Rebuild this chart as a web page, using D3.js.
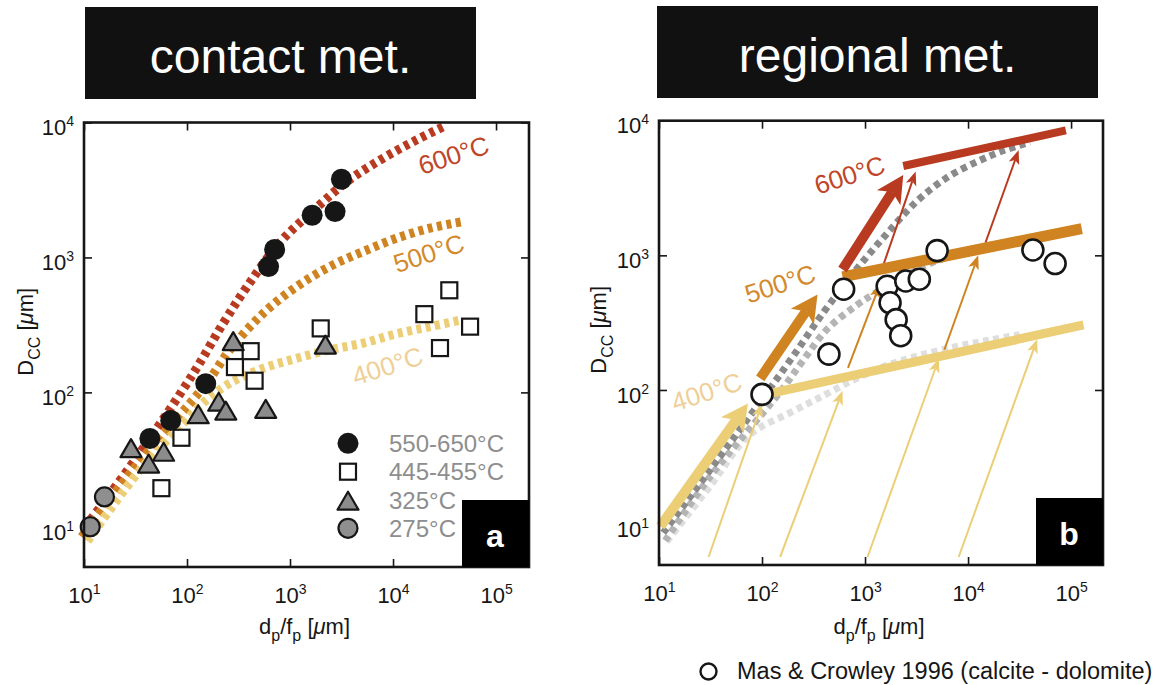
<!DOCTYPE html>
<html>
<head>
<meta charset="utf-8">
<script src="https://cdn.jsdelivr.net/npm/d3@7"></script>
<style>
  body { margin: 0; background: #fff; }
  svg { font-family: "Liberation Sans", Arial, Helvetica, sans-serif; }
</style>
</head>
<body>
<svg id="chart" width="1174" height="685"></svg>
<script>
// ---------- values ----------
const xTicks = [10, 100, 1e3, 1e4, 1e5];
const yTicks = [10, 100, 1e3, 1e4];

// panel a : contact metamorphism, [dp/fp, Dcc]
const hot = [[43.6, 45.5], [69.5, 62], [152, 116], [619, 855], [709, 1146], [1641, 2055], [2737, 2188], [3155, 3800]];
const warm = [[56.4, 19.5], [88.3, 46.1], [292, 154], [415, 202], [453, 122], [1986, 298], [20140, 380], [35180, 571], [28570, 213], [55980, 307]];
const t325 = [[28.6, 38.6], [42.4, 29.7], [59.3, 36.3], [128.5, 68.9], [203, 85.3], [238, 73.3], [281, 240], [581, 75.5], [2204, 226]];
const t275 = [[11.5, 10.1], [15.8, 16.8]];

const curve600 = [[10.2, 10], [31.6, 32], [115, 138], [224, 324], [380, 603], [794, 1288], [1698, 2239], [3548, 3631], [7413, 5248], [15850, 7244], [33110, 9550]];
const curve500 = [[9.5, 8.5], [31.6, 28.2], [155, 117], [261, 207], [551, 386], [1160, 608], [2440, 857], [5150, 1107], [10860, 1390], [22900, 1650], [48200, 1845]];
const curve400 = [[10.8, 7.9], [35, 26.6], [92, 59.2], [155, 88], [261, 117], [551, 151], [1160, 179], [2440, 207], [5150, 232], [10860, 272], [22900, 307], [46400, 345]];

// panel b : regional metamorphism
const masCrowley = [[100, 92.7], [446, 184.5], [620, 560], [1640, 589], [1750, 444], [2005, 333], [2220, 253], [2485, 645], [3365, 665], [5010, 1084], [42600, 1096], [70000, 869]];

const gray600 = [[11, 8.7], [31.6, 25.7], [100, 85.1], [200, 178], [398, 380], [794, 759], [1585, 1413], [3162, 2512], [6310, 3802], [12590, 5012], [22390, 6026], [39810, 6918]];
const gray500 = [[11.5, 7.6], [31.6, 22.9], [148, 95.5], [251, 166], [427, 282], [832, 427], [1202, 513], [2512, 708], [4266, 871], [10000, 1072], [19950, 1230]];
const gray400 = [[11.9, 7.48], [31.6, 19.5], [75.9, 46.5], [186, 67.6], [398, 91.2], [794, 120], [1585, 151], [3162, 178], [7413, 209], [15850, 234], [31620, 257]];

const line400 = [[109, 92.7], [132000, 304]];
const line500 = [[605, 693], [127000, 1580]];
const line600 = [[2350, 4610], [89000, 8470]];

const bigArrows = [
  { t: 400, from: [10.3, 9.7], to: [73, 79.4] },
  { t: 500, from: [96, 122], to: [346, 512] },
  { t: 600, from: [605, 785], to: [2350, 3950] }
];
const thinArrows = [
  { t: 400, from: [30.3, 5.75], to: [100, 79.5] },
  { t: 400, from: [150, 5.75], to: [605, 98.5] },
  { t: 400, from: [1057, 5.75], to: [5210, 171] },
  { t: 400, from: [8110, 5.75], to: [46900, 238] },
  { t: 500, from: [683, 146], to: [1400, 614] },
  { t: 500, from: [5890, 199], to: [12560, 1000] },
  { t: 600, from: [1515, 859], to: [3100, 4200] },
  { t: 600, from: [14750, 1240], to: [31000, 6050] }
];

// temperature annotations (anchor in data units)
const labelsA = [{ t: 600, at: [38700, 5730] }, { t: 500, at: [22200, 1072] }, { t: 400, at: [8850, 157] }];
const labelsB = [{ t: 600, at: [708, 3955] }, { t: 500, at: [150, 614] }, { t: 400, at: [29, 97] }];

const legendA = [
  { name: "550-650°C", kind: "hot" },
  { name: "445-455°C", kind: "warm" },
  { name: "325°C", kind: "tri" },
  { name: "275°C", kind: "gray" }
];

// ---------- styling ----------
const lineColor = { 600: "#b83a20", 500: "#cf8421", 400: "#ecce76" };
const textColor = { 600: "#c0462a", 500: "#d28a2c", 400: "#efcf98" };
const grayColor = { 600: "#8a8a8a", 500: "#b4b4b4", 400: "#dedede" };
const ink = "#161616";

const svg = d3.select("#chart");

const panels = [
  { id: "a", title: "contact met.", box: [85, 7, 391, 92], left: 84, right: 529, top: 122.5, bottom: 567, xMax: Math.pow(10, 5.32), yMin: Math.pow(10, 0.706), yTitleX: 33 },
  { id: "b", title: "regional met.", box: [657, 6, 441, 92], left: 659, right: 1103, top: 120.7, bottom: 565, xMax: Math.pow(10, 5.31), yMin: Math.pow(10, 0.7), yTitleX: 606 }
];

panels.forEach(p => {
  p.x = d3.scaleLog().domain([10, p.xMax]).range([p.left, p.right]);
  p.y = d3.scaleLog().domain([p.yMin, 1e4]).range([p.bottom, p.top]);
});

function supLabel(sel) {
  sel.each(function (d) {
    const t = d3.select(this).text(null);
    t.append("tspan").text("10");
    t.append("tspan").attr("dy", -9).attr("font-size", 14).text(Math.round(Math.log10(d)));
  });
}

function drawAxes(p) {
  const g = svg.append("g");
  const tidy = a => a.call(s => s.select(".domain").remove())
    .call(s => s.selectAll(".tick line").attr("stroke", ink).attr("stroke-width", 1.6))
    .attr("font-family", null).attr("font-size", 22);

  g.append("g").attr("transform", `translate(0,${p.bottom})`)
    .call(d3.axisBottom(p.x).tickValues(xTicks).tickSizeInner(-8).tickSizeOuter(0))
    .call(tidy)
    .selectAll(".tick text").attr("y", 36).attr("dy", null).attr("fill", ink).call(supLabel);

  g.append("g").attr("transform", `translate(${p.left},0)`)
    .call(d3.axisLeft(p.y).tickValues(yTicks).tickSizeInner(-8).tickSizeOuter(0).tickPadding(10))
    .call(tidy)
    .selectAll(".tick text").attr("dy", "0.55em").attr("fill", ink).call(supLabel);

  g.append("g").attr("transform", `translate(0,${p.top})`)
    .call(d3.axisTop(p.x).tickValues(xTicks).tickSizeInner(-8).tickSizeOuter(0).tickFormat(""))
    .call(tidy);

  g.append("g").attr("transform", `translate(${p.right},0)`)
    .call(d3.axisRight(p.y).tickValues(yTicks).tickSizeInner(-8).tickSizeOuter(0).tickFormat(""))
    .call(tidy);

  // axis titles
  const xt = svg.append("text")
    .attr("x", (p.left + p.right) / 2 - 2).attr("y", 634)
    .attr("text-anchor", "middle").attr("font-size", 22).attr("fill", ink);
  xt.append("tspan").text("d");
  xt.append("tspan").attr("dy", 7).attr("font-size", 16).text("p");
  xt.append("tspan").attr("dy", -7).text("/f");
  xt.append("tspan").attr("dy", 7).attr("font-size", 16).text("p");
  xt.append("tspan").attr("dy", -7).text(" [");
  xt.append("tspan").attr("font-style", "italic").text("μ");
  xt.append("tspan").text("m]");

  const cy = (p.top + p.bottom) / 2 - 13;
  const yt = svg.append("text")
    .attr("transform", `translate(${p.yTitleX},${cy}) rotate(-90)`)
    .attr("text-anchor", "middle").attr("font-size", 22).attr("fill", ink);
  yt.append("tspan").text("D");
  yt.append("tspan").attr("dy", 7).attr("font-size", 16).text("CC");
  yt.append("tspan").attr("dy", -7).text(" [");
  yt.append("tspan").attr("font-style", "italic").text("μ");
  yt.append("tspan").text("m]");
}

function drawFrame(p) {
  svg.append("rect")
    .attr("x", p.left).attr("y", p.top)
    .attr("width", p.right - p.left).attr("height", p.bottom - p.top)
    .attr("fill", "none").attr("stroke", ink).attr("stroke-width", 2.6);

  // corner tag
  svg.append("rect").attr("x", p.right - 67).attr("y", p.bottom - 67)
    .attr("width", 67).attr("height", 67).attr("fill", "#000");
  svg.append("text").attr("x", p.right - 34).attr("y", p.bottom - 20)
    .attr("text-anchor", "middle").attr("font-size", 32).attr("font-weight", "bold")
    .attr("fill", "#fff").text(p.id);

  // title box
  const [bx, by, bw, bh] = p.box;
  svg.append("rect").attr("x", bx).attr("y", by).attr("width", bw).attr("height", bh).attr("fill", "#111");
  svg.append("text").attr("x", bx + bw / 2).attr("y", by + 66)
    .attr("text-anchor", "middle").attr("font-size", 48).attr("fill", "#fff").text(p.title);
}

function tempLabels(p, list) {
  svg.append("g").selectAll("text").data(list).join("text")
    .attr("transform", d => `translate(${p.x(d.at[0])},${p.y(d.at[1])}) rotate(-18)`)
    .attr("text-anchor", "middle").attr("dy", "0.35em")
    .attr("font-size", 26).attr("fill", d => textColor[d.t])
    .text(d => d.t + "°C");
}

function arrow(g, p, from, to, color, w, headLen, headW) {
  const x0 = p.x(from[0]), y0 = p.y(from[1]), x1 = p.x(to[0]), y1 = p.y(to[1]);
  const a = Math.atan2(y1 - y0, x1 - x0), c = Math.cos(a), s = Math.sin(a);
  const bx = x1 - headLen * c, by = y1 - headLen * s;
  const nx = x1 - headLen * 0.75 * c, ny = y1 - headLen * 0.75 * s;
  g.append("line").attr("x1", x0).attr("y1", y0).attr("x2", nx).attr("y2", ny)
    .attr("stroke", color).attr("stroke-width", w);
  g.append("path")
    .attr("d", `M${x1},${y1}L${bx - s * headW / 2},${by + c * headW / 2}L${nx},${ny}L${bx + s * headW / 2},${by - c * headW / 2}Z`)
    .attr("fill", color);
}

// ---------- panel a ----------
const A = panels[0];
const lineA = d3.line().x(d => A.x(d[0])).y(d => A.y(d[1])).curve(d3.curveCatmullRom.alpha(0.5));

drawAxes(A);

[[curve600, 600], [curve500, 500], [curve400, 400]].forEach(([data, t]) => {
  svg.append("path").datum(data).attr("d", lineA)
    .attr("fill", "none").attr("stroke", lineColor[t])
    .attr("stroke-width", 9).attr("stroke-dasharray", "5,4.5");
});
tempLabels(A, labelsA);

const triPath = (w, h) => `M0,${-h / 2}L${w / 2},${h / 2}L${-w / 2},${h / 2}Z`;

function marker(sel, kind) {
  if (kind === "warm") {
    sel.append("rect").attr("x", -8).attr("y", -8).attr("width", 16).attr("height", 16)
      .attr("fill", "#fff").attr("stroke", ink).attr("stroke-width", 2.2);
  } else if (kind === "tri") {
    sel.append("path").attr("d", triPath(21, 18))
      .attr("fill", "#8c8c8c").attr("stroke", ink).attr("stroke-width", 2.2).attr("stroke-linejoin", "round");
  } else if (kind === "gray") {
    sel.append("circle").attr("r", 9.5).attr("fill", "#8f8f8f").attr("stroke", ink).attr("stroke-width", 2.2);
  } else {
    sel.append("circle").attr("r", 10.5).attr("fill", ink);
  }
}

[[warm, "warm"], [t325, "tri"], [t275, "gray"], [hot, "hot"]].forEach(([data, kind]) => {
  svg.append("g").selectAll("g").data(data).join("g")
    .attr("transform", d => `translate(${A.x(d[0])},${A.y(d[1])})`)
    .call(sel => marker(sel, kind));
});

// legend a
const legRows = [443.3, 471.7, 500.7, 528.3];
const leg = svg.append("g").selectAll("g").data(legendA).join("g")
  .attr("transform", (d, i) => `translate(348,${legRows[i]})`);
leg.each(function (d) { marker(d3.select(this), d.kind); });
leg.append("text").attr("x", 41).attr("dy", "0.36em")
  .attr("font-size", 24).attr("fill", "#8e8e8e").text(d => d.name);

drawFrame(A);

// ---------- panel b ----------
const B = panels[1];
const lineB = d3.line().x(d => B.x(d[0])).y(d => B.y(d[1])).curve(d3.curveCatmullRom.alpha(0.5));

drawAxes(B);

[[gray400, 400], [gray500, 500], [gray600, 600]].forEach(([data, t]) => {
  svg.append("path").datum(data).attr("d", lineB)
    .attr("fill", "none").attr("stroke", grayColor[t])
    .attr("stroke-width", 7).attr("stroke-dasharray", "6,4.5");
});

const gb = svg.append("g");
thinArrows.forEach(a => arrow(gb, B, a.from, a.to, lineColor[a.t], 2, 14, 11));

[[line400, 400, 9], [line500, 500, 11], [line600, 600, 8]].forEach(([data, t, w]) => {
  gb.append("path").datum(data).attr("d", lineB)
    .attr("fill", "none").attr("stroke", lineColor[t]).attr("stroke-width", w);
});
bigArrows.forEach(a => arrow(gb, B, a.from, a.to, lineColor[a.t], 10, 27, 28));

svg.append("g").selectAll("circle").data(masCrowley).join("circle")
  .attr("cx", d => B.x(d[0])).attr("cy", d => B.y(d[1])).attr("r", 10.5)
  .attr("fill", "#fff").attr("stroke", ink).attr("stroke-width", 2.6);

tempLabels(B, labelsB);
drawFrame(B);

// bottom legend
svg.append("circle").attr("cx", 708.5).attr("cy", 671.5).attr("r", 8)
  .attr("fill", "#fff").attr("stroke", ink).attr("stroke-width", 2.4);
svg.append("text").attr("x", 737).attr("y", 679).attr("font-size", 23.5).attr("fill", ink)
  .text("Mas & Crowley 1996 (calcite - dolomite)");
</script>
</body>
</html>
